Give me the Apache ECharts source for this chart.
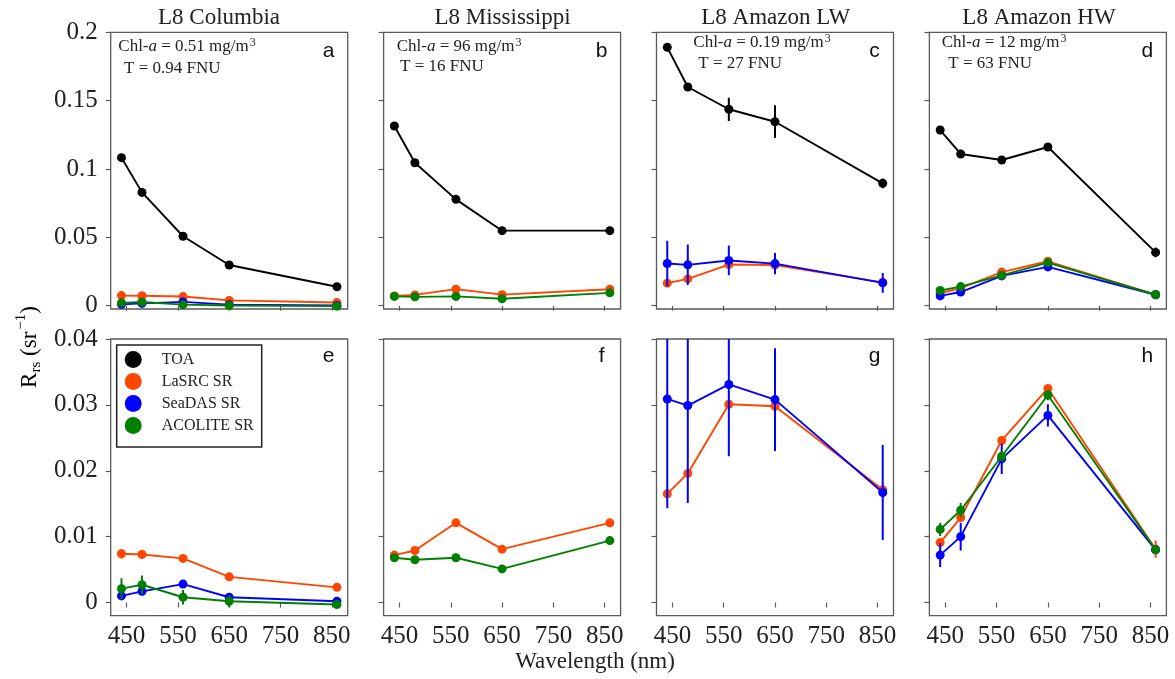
<!DOCTYPE html>
<html>
<head>
<meta charset="utf-8">
<script src="https://cdn.jsdelivr.net/npm/echarts@6/dist/echarts.min.js"></script>
<style>
  html, body { margin: 0; padding: 0; background: #ffffff; }
  #chart { width: 1175px; height: 679px; }
</style>
</head>
<body>
<div id="chart"></div>
<script>
// Landsat-8 band centres (nm)
const wavelengths = [440, 480, 560, 650, 860];
const xTicks = [450, 550, 650, 750, 850];
const yTicksTop = [0, 0.05, 0.1, 0.15, 0.2];
const yTicksBottom = [0, 0.01, 0.02, 0.03, 0.04];

const siteTitles = ['L8 Columbia', 'L8 Mississippi', 'L8 Amazon LW', 'L8 Amazon HW'];
const chlValues = ['0.51', '96', '0.19', '12'];
const turbidityValues = ['0.94', '16', '27', '63'];
const lettersTop = ['a', 'b', 'c', 'd'];
const lettersBottom = ['e', 'f', 'g', 'h'];

const productNames = ['TOA', 'LaSRC SR', 'SeaDAS SR', 'ACOLITE SR'];
const productColors = ['#000000', '#ff4500', '#0000ff', '#008000'];

// Reflectance per site (rows: Columbia, Mississippi, Amazon LW, Amazon HW)
const toaRrs = [
  [0.1083, 0.0829, 0.0508, 0.0298, 0.0139],
  [0.1315, 0.1046, 0.0778, 0.0549, 0.0549],
  [0.1890, 0.1600, 0.1437, 0.1346, 0.0895],
  [0.1285, 0.1110, 0.1066, 0.1161, 0.0390]
];
const toaErr = [
  [0, 0, 0, 0, 0],
  [0, 0, 0, 0, 0],
  [0.0015, 0.0030, 0.0085, 0.0120, 0.0035],
  [0.0020, 0.0030, 0.0010, 0.0010, 0.0035]
];
const lasrcRrs = [
  [0.0074, 0.0073, 0.0067, 0.0039, 0.0023],
  [0.0072, 0.0079, 0.0121, 0.0081, 0.0121],
  [0.0165, 0.0196, 0.0301, 0.0298, 0.0171],
  [0.0091, 0.0129, 0.0246, 0.0325, 0.0081]
];
const lasrcErr = [
  [0.0007, 0.0007, 0.0005, 0.0006, 0.0004],
  [0.0002, 0.0002, 0.0002, 0.0002, 0.0002],
  [0.0004, 0.0004, 0.0004, 0.0004, 0.0004],
  [0.0005, 0.0005, 0.0005, 0.0004, 0.0013]
];
const seadasRrs = [
  [0.0010, 0.0017, 0.0028, 0.0008, 0.0002],
  null,
  [0.0309, 0.0299, 0.0331, 0.0308, 0.0167],
  [0.0072, 0.0100, 0.0218, 0.0284, 0.0080]
];
const seadasErr = [
  [0.0004, 0.0003, 0.0003, 0.0002, 0.0002],
  null,
  [0.0166, 0.0148, 0.0109, 0.0078, 0.0072],
  [0.0018, 0.0021, 0.0023, 0.0017, 0.0003]
];
const acoliteRrs = [
  [0.0021, 0.0027, 0.0008, 0.0002, -0.0003],
  [0.0068, 0.0065, 0.0068, 0.0051, 0.0094],
  null,
  [0.0111, 0.0140, 0.0222, 0.0315, 0.0080]
];
const acoliteErr = [
  [0.0016, 0.0014, 0.0011, 0.0009, 0.0003],
  [0.0002, 0.0002, 0.0002, 0.0002, 0.0002],
  null,
  [0.0010, 0.0011, 0.0008, 0.0008, 0.0003]
];

const productValues = [toaRrs, lasrcRrs, seadasRrs, acoliteRrs];
const productErrors = [toaErr, lasrcErr, seadasErr, acoliteErr];

// Panel geometry
const panelLeft0 = 110.7, panelStep = 272.9, panelWidth = 237, panelHeight = 276.7;
const rowTops = [32.3, 339];
const yRanges = [[-0.0024, 0.2], [-0.002, 0.04]];

const serif = 'Liberation Serif';
const textColor = '#222222';
const frameColor = '#5a5a5a';

const grids = [], xAxes = [], yAxes = [], series = [], graphics = [];

for (let row = 0; row < 2; row++) {
  for (let col = 0; col < 4; col++) {
    const idx = row * 4 + col;
    grids.push({
      left: panelLeft0 + col * panelStep, top: rowTops[row],
      width: panelWidth, height: panelHeight,
      show: true, borderColor: frameColor, borderWidth: 1.3,
      backgroundColor: 'transparent', containLabel: false
    });
    xAxes.push({
      type: 'value', gridIndex: idx, min: 419, max: 881,
      splitLine: { show: false },
      axisLine: { show: false },
      axisTick: { show: true, inside: false, length: 5, customValues: xTicks,
                  lineStyle: { color: frameColor, width: 1.2 } },
      axisLabel: { show: row === 1, customValues: xTicks, margin: 8,
                   fontFamily: serif, fontSize: 25, color: textColor }
    });
    const yTicks = row === 0 ? yTicksTop : yTicksBottom;
    yAxes.push({
      type: 'value', gridIndex: idx, min: yRanges[row][0], max: yRanges[row][1],
      splitLine: { show: false },
      axisLine: { show: false },
      axisTick: { show: true, inside: false, length: 5, customValues: yTicks,
                  lineStyle: { color: frameColor, width: 1.2 } },
      axisLabel: { show: col === 0, customValues: yTicks, margin: 13,
                   fontFamily: serif, fontSize: 25, color: textColor,
                   formatter: v => String(v) }
    });

    // products: TOA only on the upper (wide-range) row
    for (let p = row === 0 ? 0 : 1; p < 4; p++) {
      const vals = productValues[p][col];
      const errs = productErrors[p][col];
      if (!vals) continue;
      const color = productColors[p];
      series.push({
        type: 'custom', name: 'err-' + idx + '-' + p,
        xAxisIndex: idx, yAxisIndex: idx, clip: true, z: 2 + p,
        silent: true, animation: false,
        data: wavelengths.map((w, i) => [w, vals[i], errs[i]]),
        renderItem: (params, api) => {
          const e = api.value(2);
          if (!e) return null;
          const x = api.value(0), y = api.value(1);
          const p1 = api.coord([x, y - e]);
          const p2 = api.coord([x, y + e]);
          return {
            type: 'line',
            shape: { x1: p1[0], y1: p1[1], x2: p2[0], y2: p2[1] },
            style: { stroke: color, lineWidth: 2 }
          };
        }
      });
      series.push({
        type: 'line', name: productNames[p],
        xAxisIndex: idx, yAxisIndex: idx, z: 2 + p,
        data: wavelengths.map((w, i) => [w, vals[i]]),
        symbol: 'circle', symbolSize: 9, showSymbol: true,
        lineStyle: { color: color, width: 1.9 },
        itemStyle: { color: color },
        emphasis: { disabled: true },
        animation: false
      });
    }

    // panel letter
    const letter = row === 0 ? lettersTop[col] : lettersBottom[col];
    graphics.push({
      type: 'text',
      x: panelLeft0 + col * panelStep + panelWidth - 19,
      y: row === 0 ? 51 : 356,
      style: { text: letter, fontFamily: 'Liberation Sans', fontSize: 21, fill: '#111',
               align: 'center', textAlign: 'center', verticalAlign: 'middle', textVerticalAlign: 'middle' }
    });
  }
}

// site titles
const titleCentres = [219, 502.5, 775.8, 1039];
siteTitles.forEach((t, col) => {
  graphics.push({
    type: 'text', x: titleCentres[col], y: 18,
    style: { text: t, fontFamily: serif, fontSize: 23, fill: textColor,
             align: 'center', textAlign: 'center', verticalAlign: 'middle', textVerticalAlign: 'middle' }
  });
});

// water-quality annotations
const chlPos = [[118.3, 46.7], [396.7, 46.7], [693.3, 42.7], [941.7, 42.7]];
const turbPos = [[124, 68.3], [400, 66.7], [698.3, 63.3], [948.3, 63.3]];
const annotRich = {
  n: { fontFamily: serif, fontSize: 17, color: textColor, lineHeight: 22 },
  i: { fontFamily: serif, fontSize: 17, fontStyle: 'italic', color: textColor, lineHeight: 22 },
  sup: { fontFamily: serif, fontSize: 12, color: textColor, lineHeight: 12, verticalAlign: 'top', padding: [1, 0, 0, 1] }
};
chlValues.forEach((c, col) => {
  graphics.push({
    type: 'text', x: chlPos[col][0], y: chlPos[col][1],
    style: { text: '{n|Chl-}{i|a}{n| = ' + c + ' mg/m}{sup|3}', rich: annotRich,
             fontFamily: serif, fontSize: 17, fill: textColor,
             align: 'left', textAlign: 'left', verticalAlign: 'middle', textVerticalAlign: 'middle' }
  });
  graphics.push({
    type: 'text', x: turbPos[col][0], y: turbPos[col][1],
    style: { text: 'T = ' + turbidityValues[col] + ' FNU',
             fontFamily: serif, fontSize: 17, fill: textColor,
             align: 'left', textAlign: 'left', verticalAlign: 'middle', textVerticalAlign: 'middle' }
  });
});

// shared axis titles
graphics.push({
  type: 'text', x: 595, y: 662,
  style: { text: 'Wavelength (nm)', fontFamily: serif, fontSize: 23, fill: textColor,
           align: 'center', textAlign: 'center', verticalAlign: 'middle', textVerticalAlign: 'middle' }
});
graphics.push({
  type: 'text', x: 30, y: 347, rotation: Math.PI / 2,
  style: {
    text: '{n|R}{sub|rs}{n| (sr}{sup|−1}{n|)}',
    rich: {
      n: { fontFamily: serif, fontSize: 23, color: textColor, lineHeight: 36 },
      sub: { fontFamily: serif, fontSize: 15, color: textColor, lineHeight: 15, verticalAlign: 'bottom', padding: [0, 0, 4, 0] },
      sup: { fontFamily: serif, fontSize: 15, color: textColor, lineHeight: 15, verticalAlign: 'top', padding: [2, 0, 0, 2] }
    },
    align: 'center', textAlign: 'center', verticalAlign: 'middle', textVerticalAlign: 'middle'
  }
});

const chart = echarts.init(document.getElementById('chart'), null, { renderer: 'canvas' });
chart.setOption({
  backgroundColor: '#ffffff',
  animation: false,
  grid: grids,
  xAxis: xAxes,
  yAxis: yAxes,
  series: series,
  legend: {
    data: productNames.map(n => ({ name: n, icon: 'circle' })),
    orient: 'vertical', left: 116.7, top: 345,
    itemWidth: 17, itemHeight: 17, itemGap: 5,
    padding: [6, 8, 13, 8],
    borderColor: '#222', borderWidth: 1.5, borderRadius: 0,
    backgroundColor: '#ffffff',
    selectedMode: false,
    textStyle: { fontFamily: serif, fontSize: 16, color: textColor, padding: [0, 0, 0, 15] }
  },
  graphic: graphics
});
</script>
</body>
</html>
